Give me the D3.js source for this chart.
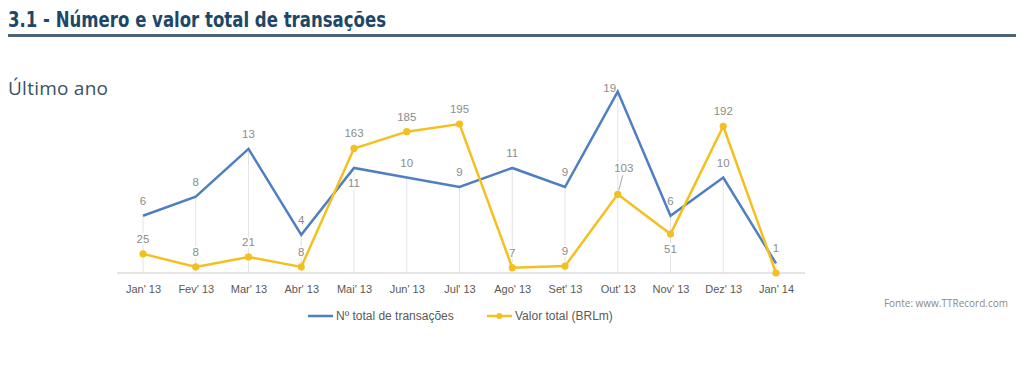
<!DOCTYPE html>
<html>
<head>
<meta charset="utf-8">
<script src="https://cdn.jsdelivr.net/npm/d3@7"></script>
<style>
  body { margin: 0; background: #fff; }
  svg { display: block; }
</style>
</head>
<body>
<svg id="chart" width="1024" height="365"></svg>
<script>
// Dados do gráfico
const months = ["Jan' 13", "Fev' 13", "Mar' 13", "Abr' 13", "Mai' 13", "Jun' 13", "Jul' 13",
  "Ago' 13", "Set' 13", "Out' 13", "Nov' 13", "Dez' 13", "Jan' 14"];
const numTransacoes = [6, 8, 13, 4, 11, 10, 9, 11, 9, 19, 6, 10, 1];
const valorTotal = [25, 8, 21, 8, 163, 185, 195, 7, 9, 103, 51, 192, 0];
const seriesNames = ["Nº total de transações", "Valor total (BRLm)"];

// posição dos rótulos (acima / abaixo)
const blueLabelPos = ['a', 'a', 'a', 'a', 'b', 'a', 'a', 'a', 'a', 'l', 'a', 'a', 'a'];
const goldLabelPos = ['a', 'a', 'a', 'a', 'a', 'a', 'a', 'a', 'a', 'lead', 'b', 'a', 'none'];

const BLUE = '#4f7fc0';
const GOLD = '#f4c020';
const LABEL = '#8c8c8c';

const svg = d3.select('#chart');

// Título
svg.append('text')
  .attr('x', 8).attr('y', 27)
  .attr('font-family', 'DejaVu Sans Condensed, DejaVu Sans, sans-serif')
  .attr('font-weight', 'bold')
  .attr('font-size', 21)
  .attr('fill', '#1d4769')
  .attr('textLength', 378)
  .attr('lengthAdjust', 'spacingAndGlyphs')
  .text('3.1 - Número e valor total de transações');

svg.append('rect')
  .attr('x', 8).attr('y', 34).attr('width', 1008).attr('height', 3)
  .attr('fill', '#4c6478');

svg.append('text')
  .attr('x', 8).attr('y', 95)
  .attr('font-family', 'Open Sans, sans-serif')
  .attr('font-size', 19)
  .attr('fill', '#3a5166')
  .attr('textLength', 100)
  .text('Último ano');

// Escalas
const x = d3.scalePoint().domain(months).range([143, 776]);
const yBlue = d3.scaleLinear().domain([0, 20]).range([273, 82]);
const yGold = d3.scaleLinear().domain([0, 250]).range([273, 82]);

const g = svg.append('g');

// linhas verticais (a partir da série azul)
g.selectAll('line.drop')
  .data(months)
  .join('line')
  .attr('class', 'drop')
  .attr('x1', d => x(d)).attr('x2', d => x(d))
  .attr('y1', (d, i) => yBlue(numTransacoes[i]))
  .attr('y2', yBlue(0))
  .attr('stroke', '#e3e3e3')
  .attr('stroke-width', 1);

// eixo X
const xAxis = g.append('g')
  .attr('transform', `translate(0,${yBlue(0)})`)
  .call(d3.axisBottom(x).tickSize(0).tickPadding(12));
xAxis.select('.domain').remove();
xAxis.append('line')
  .attr('x1', 117).attr('x2', 805)
  .attr('stroke', '#dcdcdc').attr('stroke-width', 1.5);
xAxis.selectAll('.tick text')
  .attr('font-family', 'Liberation Sans, Arial, sans-serif')
  .attr('font-size', 11)
  .attr('fill', '#595959');

// rótulos de dados
function labelPos(pos, px, py) {
  if (pos === 'b') return [px, py + 19];
  if (pos === 'l') return [px - 8, py];
  if (pos === 'lead') return [px + 6, py - 22];
  return [px, py - 11];
}

const labels = g.append('g')
  .attr('font-family', 'Liberation Sans, Arial, sans-serif')
  .attr('font-size', 11.5)
  .attr('fill', LABEL)
  .attr('text-anchor', 'middle')
  .attr('stroke', '#fff')
  .attr('stroke-width', 3)
  .attr('paint-order', 'stroke');

months.forEach((m, i) => {
  const [bx, by] = labelPos(blueLabelPos[i], x(m), yBlue(numTransacoes[i]));
  labels.append('text').attr('x', bx).attr('y', by).text(numTransacoes[i]);
  if (goldLabelPos[i] !== 'none') {
    const px = x(m), py = yGold(valorTotal[i]);
    const [gx, gy] = labelPos(goldLabelPos[i], px, py);
    labels.append('text').attr('x', gx).attr('y', gy).text(valorTotal[i]);
    if (goldLabelPos[i] === 'lead') {
      g.append('line')
        .attr('x1', px + 1).attr('y1', py - 4)
        .attr('x2', px + 5).attr('y2', py - 19)
        .attr('stroke', '#a6a6a6').attr('stroke-width', 1);
    }
  }
});

// linhas das séries
const lineBlue = d3.line().x((d, i) => x(months[i])).y(d => yBlue(d));
const lineGold = d3.line().x((d, i) => x(months[i])).y(d => yGold(d));

g.append('path')
  .datum(numTransacoes)
  .attr('d', lineBlue)
  .attr('fill', 'none')
  .attr('stroke', BLUE)
  .attr('stroke-width', 2.5)
  .attr('stroke-linejoin', 'miter');

g.append('path')
  .datum(valorTotal)
  .attr('d', lineGold)
  .attr('fill', 'none')
  .attr('stroke', GOLD)
  .attr('stroke-width', 2.5);

g.selectAll('circle.gold')
  .data(valorTotal)
  .join('circle')
  .attr('class', 'gold')
  .attr('cx', (d, i) => x(months[i]))
  .attr('cy', d => yGold(d))
  .attr('r', 3.6)
  .attr('fill', GOLD);

// legenda
const legend = svg.append('g')
  .attr('font-family', 'Liberation Sans, Arial, sans-serif')
  .attr('font-size', 12)
  .attr('fill', '#595959');

legend.append('line')
  .attr('x1', 308).attr('x2', 333).attr('y1', 316).attr('y2', 316)
  .attr('stroke', BLUE).attr('stroke-width', 2.5);
legend.append('text').attr('x', 336).attr('y', 320).text(seriesNames[0]);

legend.append('line')
  .attr('x1', 487).attr('x2', 512).attr('y1', 316).attr('y2', 316)
  .attr('stroke', GOLD).attr('stroke-width', 2.5);
legend.append('circle').attr('cx', 499.5).attr('cy', 316).attr('r', 3).attr('fill', GOLD);
legend.append('text').attr('x', 515).attr('y', 320).text(seriesNames[1]);

// fonte
svg.append('text')
  .attr('x', 1008).attr('y', 307)
  .attr('text-anchor', 'end')
  .attr('font-family', 'Open Sans, sans-serif')
  .attr('font-size', 10)
  .attr('fill', '#8a8a8a')
  .text('Fonte: www.TTRecord.com');
</script>
</body>
</html>
